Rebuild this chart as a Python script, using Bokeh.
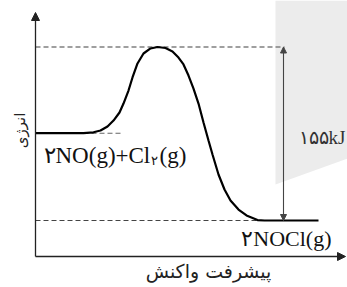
from bokeh.plotting import figure
from bokeh.models import Label, Arrow, NormalHead, Range1d
from bokeh.embed import file_html
from bokeh.resources import INLINE

# ---- data (energies in kJ relative to products, progress in arbitrary units) ----
E_reactant = 78.0
E_peak = 155.0
E_product = 0.0
delta_label = "۱۵۵kJ"
reactant_main = "۲NO(g)+Cl"
reactant_sub = "۲"
reactant_tail = "(g)"
product_label = "۲NOCl(g)"
y_title = "انرژی"
x_title = "پیشرفت واکنش"

progress = [0, 48, 58, 65, 72, 78, 84, 88, 93, 97, 102, 108, 115, 122, 130, 137, 143, 148,
            153, 158, 163, 168, 173, 177, 183, 189, 195, 203, 211, 222, 229, 283]
energy = [78.0, 78.0, 78.8, 80.4, 84.0, 89.3, 96.5, 104.5, 116.1, 127.8, 140.3, 149.2, 153.7,
          155.0, 154.1, 151.0, 145.6, 139.4, 129.5, 117.9, 104.5, 87.5, 71.5, 59.0, 41.1,
          27.7, 17.9, 9.8, 4.5, 0.4, 0.0, 0.0]

# ---- layout constants ----
W, H = 347, 287
f = 155.0 / 173.5            # kJ per pixel
x0_px, y0_px = 35, 220       # pixel of progress 0 / energy 0

def ex(px):
    return px - x0_px

def ey(py):
    return (y0_px - py) * f

p = figure(width=W, height=H, output_backend="svg", toolbar_location=None,
           x_range=Range1d(ex(0), ex(W)), y_range=Range1d(ey(H), ey(0)),
           min_border=0, min_border_left=0, min_border_right=0,
           min_border_top=0, min_border_bottom=0)
p.axis.visible = False
p.grid.visible = False
p.outline_line_color = None
p.background_fill_color = "white"
p.border_fill_color = "white"

# grey side panel
p.patch([ex(275), ex(347), ex(347), ex(275)], [ey(0), ey(0), ey(158), ey(184)],
        fill_color="#ececec", line_color=None)

# dashed reference levels
p.line([progress[0], ex(284)], [E_peak, E_peak], line_color="#808080", line_width=1.3, line_dash="5 3")
p.line([progress[1], ex(122)], [E_reactant, E_reactant], line_color="#666666", line_width=1.1, line_dash="5 3")
p.line([progress[0], progress[-3]], [E_product, E_product], line_color="#444444", line_width=1.1, line_dash="5 3")

# energy profile
p.line(progress, energy, line_color="black", line_width=2.2)

# axes with arrows
yb = ey(256)
p.add_layout(Arrow(end=NormalHead(size=8, fill_color="#222222", line_color="#222222"),
                   x_start=0, y_start=yb, x_end=0, y_end=ey(12),
                   line_color="#222222", line_width=1.3))
p.add_layout(Arrow(end=NormalHead(size=8, fill_color="#222222", line_color="#222222"),
                   x_start=0, y_start=yb, x_end=ex(345), y_end=yb,
                   line_color="#222222", line_width=1.3))

# delta arrow
xa = ex(283)
p.add_layout(Arrow(start=NormalHead(size=6, fill_color="#444444", line_color="#444444"),
                   end=NormalHead(size=6, fill_color="#444444", line_color="#444444"),
                   x_start=xa, y_start=E_product, x_end=xa, y_end=E_peak,
                   line_color="#444444", line_width=1.1))

serif = "Liberation Serif"
p.add_layout(Label(x=ex(345), y=ey(137), text=delta_label, text_font=serif, text_font_size="19px",
                   text_align="right", text_baseline="middle", text_color="#333333"))
p.add_layout(Label(x=ex(43), y=ey(155), text=reactant_main, text_font=serif, text_font_size="23px",
                   text_align="left", text_baseline="middle", text_color="#111111"))
p.add_layout(Label(x=ex(150), y=ey(160), text=reactant_sub, text_font=serif, text_font_size="13px",
                   text_align="left", text_baseline="middle", text_color="#111111"))
p.add_layout(Label(x=ex(159), y=ey(155), text=reactant_tail, text_font=serif, text_font_size="23px",
                   text_align="left", text_baseline="middle", text_color="#111111"))
p.add_layout(Label(x=ex(331), y=ey(238), text=product_label, text_font=serif, text_font_size="22px",
                   text_align="right", text_baseline="middle", text_color="#111111"))
p.add_layout(Label(x=ex(20), y=ey(130), text=y_title, text_font="DejaVu Sans", text_font_size="15px",
                   text_align="center", text_baseline="middle", angle=1.5708, text_color="#222222"))
p.add_layout(Label(x=ex(208), y=ey(270), text=x_title, text_font="DejaVu Sans", text_font_size="19px",
                   text_align="center", text_baseline="middle", text_color="#222222"))

open("out.html", "w").write(file_html(p, INLINE))
